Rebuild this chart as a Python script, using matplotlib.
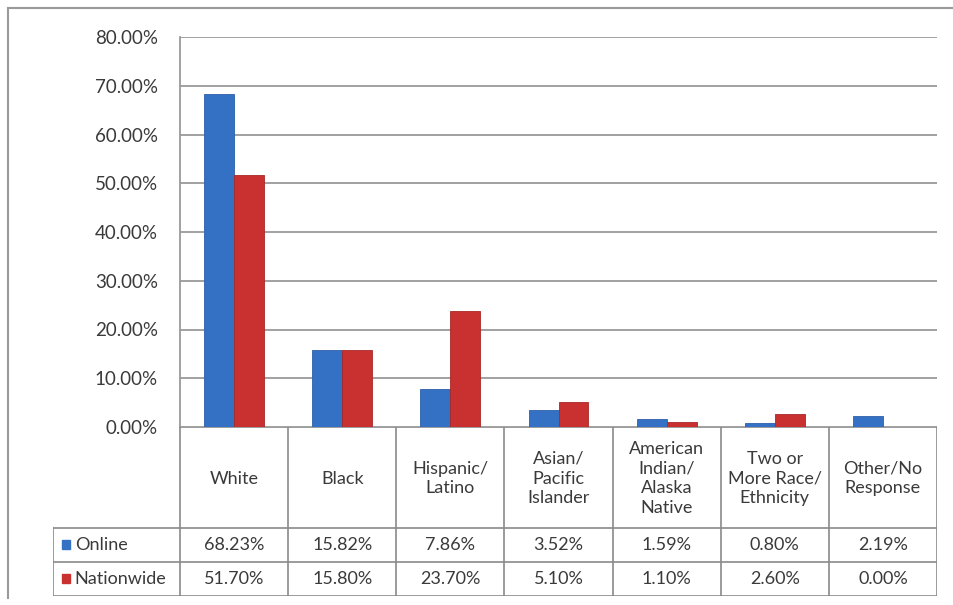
import matplotlib.pyplot as plt
import numpy as np
from matplotlib.patches import Rectangle
from matplotlib.lines import Line2D

plt.rcParams['font.family'] = ['Lato', 'DejaVu Sans']

categories = ['White', 'Black', 'Hispanic/\nLatino', 'Asian/\nPacific\nIslander',
              'American\nIndian/\nAlaska\nNative', 'Two or\nMore Race/\nEthnicity',
              'Other/No\nResponse']
online = [68.23, 15.82, 7.86, 3.52, 1.59, 0.80, 2.19]
nationwide = [51.70, 15.80, 23.70, 5.10, 1.10, 2.60, 0.00]
series_names = ['Online', 'Nationwide']

blue = '#3470c4'
red = '#c93130'
grid_c = '#9a9a9a'
text_c = '#3a3a3a'
fs = 13

W, H = 954, 605
fig = plt.figure(figsize=(W / 100, H / 100), dpi=100)

def px_axes(x0, y0, x1, y1):
    # pixel box (top-left origin) -> figure axes
    return fig.add_axes([x0 / W, 1 - y1 / H, (x1 - x0) / W, (y1 - y0) / H])

# outer frame (top and left edges)
fig.add_artist(Line2D([8 / W, 1], [1 - 8 / H] * 2, color='#9a9a9a', lw=1.5))
fig.add_artist(Line2D([8 / W] * 2, [1 - 8 / H, 1 - 598 / H], color='#9a9a9a', lw=1.5))

# main bar chart
ax = px_axes(180, 37, 937, 427)
n = len(categories)
x = np.arange(n) + 0.5
bw = 0.277
ax.bar(x - bw / 2, online, bw, color=blue, edgecolor='#2d5fa8', linewidth=0.6, zorder=3)
ax.bar(x + bw / 2, nationwide, bw, color=red, edgecolor='#a82826', linewidth=0.6, zorder=3)
ax.set_xlim(0, n)
ax.set_ylim(0, 80)
ax.set_yticks(np.arange(0, 81, 10))
ax.set_yticklabels(['%.2f%%' % v for v in np.arange(0, 81, 10)], fontsize=fs + 0.5, color=text_c)
ax.yaxis.grid(True, color=grid_c, lw=1.3, zorder=0)
ax.set_xticks([])
ax.tick_params(axis='y', length=0, pad=16)
for s in ['top', 'right', 'bottom']:
    ax.spines[s].set_visible(False)
ax.spines['left'].set_color(grid_c)
ax.spines['left'].set_linewidth(1.3)

# data table below the chart
tab = px_axes(53, 427, 937, 596)
unit = 757 / n
left_ext = 127 / unit
tab.set_xlim(-left_ext, n)
tab.set_ylim(169, 0)
tab.axis('off')
row_y = [0, 101, 135, 169]
lc = '#8a8a8a'
lw = 1.2
# horizontal rules
tab.plot([0, n], [0, 0], color=lc, lw=lw)
for yy in row_y[1:]:
    tab.plot([-left_ext, n], [yy, yy], color=lc, lw=lw)
# vertical rules
for i in range(n + 1):
    tab.plot([i, i], [0, 169], color=lc, lw=lw)
tab.plot([-left_ext, -left_ext], [101, 169], color=lc, lw=lw)

for i, cat in enumerate(categories):
    tab.text(i + 0.5, (row_y[0] + row_y[1]) / 2 + 1, cat, ha='center', va='center',
             fontsize=fs, color=text_c, linespacing=1.3)
    tab.text(i + 0.5, (row_y[1] + row_y[2]) / 2, '%.2f%%' % online[i], ha='center',
             va='center', fontsize=fs, color=text_c)
    tab.text(i + 0.5, (row_y[2] + row_y[3]) / 2, '%.2f%%' % nationwide[i], ha='center',
             va='center', fontsize=fs, color=text_c)

# legend keys in the row headers
for r, (name, col) in enumerate(zip(series_names, [blue, red])):
    yc = (row_y[r + 1] + row_y[r + 2]) / 2
    tab.add_patch(Rectangle((-left_ext + 0.085, yc - 5), 0.07, 9, color=col, clip_on=False))
    tab.text(-left_ext + 0.2, yc, name, ha='left', va='center', fontsize=fs, color=text_c)

fig.savefig('out.png', dpi=100)
